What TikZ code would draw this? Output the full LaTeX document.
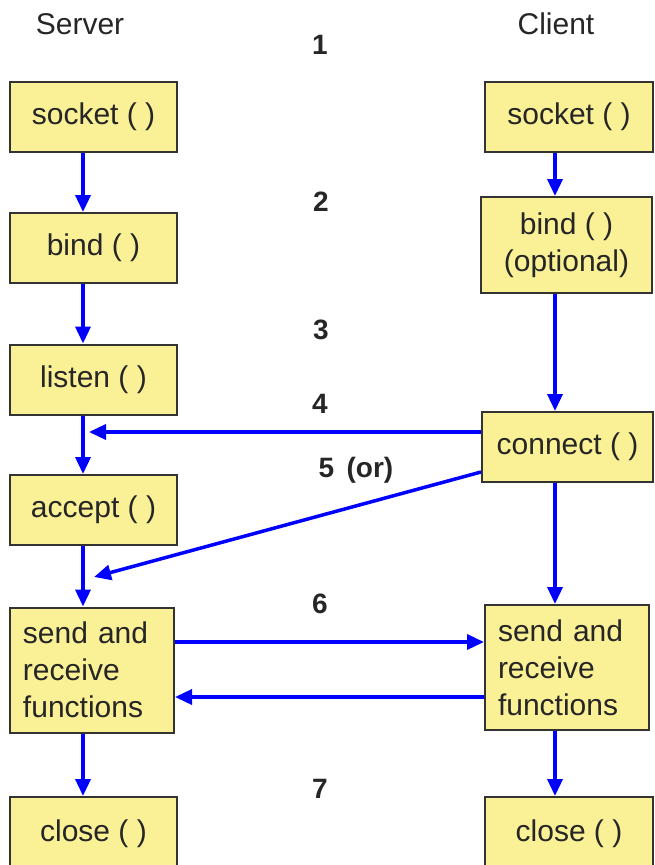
\documentclass[tikz,border=0pt]{standalone}
\usepackage{fontspec}
\setmainfont{Liberation Sans}
\usetikzlibrary{arrows.meta}
\definecolor{boxyellow}{RGB}{250,240,150}

\begin{document}
\begin{tikzpicture} [x=1pt, y=-1pt,
      box/.style={draw=black!80, line width=2pt, fill=boxyellow, inner sep=0pt,
          minimum height=70pt, text=black!85, font=\fontsize{30}{37}\selectfont},
      sendbox/.style={box, align=left, text width=138pt, minimum height=125pt},
      arr/.style={draw=blue, line width=3.5pt, -{Triangle[length=17pt,width=15pt]}},
      head/.style={text=black!85, font=\fontsize{30}{36}\selectfont},
      step no/.style={text=black!85, font=\fontsize{28}{32}\selectfont\bfseries}]
    \useasboundingbox (0,0) rectangle (654,865);

    % server column
    \node[box, minimum width=167pt] (srvsocket) at (93.5,117) {socket ( )};
    \node[box, minimum width=167pt] (srvbind) at (93.5,248) {bind ( )};
    \node[box, minimum width=167pt] (srvlisten) at (93.5,379.5) {listen ( )};
    \node[box, minimum width=167pt] (srvaccept) at (93.5,510) {accept ( )};
    \node[sendbox, minimum width=164pt] (srvsend) at (92,670) {send and\\receive\\functions};
    \node[box, minimum width=167pt, minimum height=73pt] (srvclose) at (93.5,833.5) {\raisebox{4pt}{close ( )}};

    % client column
    \node[box, minimum width=168pt] (cltsocket) at (569,117) {socket ( )};
    \node[box, minimum width=171pt, minimum height=96pt, align=center] (cltbind) at (566.5,245) {bind ( )\\(optional)};
    \node[box, minimum width=171pt] (cltconnect) at (567.5,447) {connect ( )};
    \node[sendbox, minimum width=164pt] (cltsend) at (567,667.5) {send and\\receive\\functions};
    \node[box, minimum width=168pt, minimum height=73pt] (cltclose) at (569,833.5) {\raisebox{4pt}{close ( )}};

    % headings and steps
    \node[head] (server) at (80,24) {Server};
    \node[head] (client) at (556,24) {Client};
    \node[step no] (s1) at (320,45) {1};
    \node[step no] (s2) at (321,202) {2};
    \node[step no] (s3) at (321,330) {3};
    \node[step no] (s4) at (320,404) {4};
    \node[step no] (s5) at (356,470) {5 \,(or)};
    \node[step no] (s6) at (320,604) {6};
    \node[step no] (s7) at (320,789) {7};

    \coordinate (srvx) at (83,0);
    \coordinate (cltx) at (555,0);
    \coordinate (tip4) at (89,432);
    \coordinate (tip5) at (94,577);
    \coordinate (lvl6a) at (0,642);
    \coordinate (lvl6b) at (0,697);

    % server flow
    \draw[arr] (srvsocket.south -| srvx) -- (srvbind.north -| srvx);
    \draw[arr] (srvbind.south -| srvx) -- (srvlisten.north -| srvx);
    \draw[arr] (srvlisten.south -| srvx) -- (srvaccept.north -| srvx);
    \draw[arr] (srvaccept.south -| srvx) -- (srvsend.north -| srvx);
    \draw[arr] (srvsend.south -| srvx) -- (srvclose.north -| srvx);

    % client flow
    \draw[arr] (cltsocket.south -| cltx) -- (cltbind.north -| cltx);
    \draw[arr] (cltbind.south -| cltx) -- (cltconnect.north -| cltx);
    \draw[arr] (cltconnect.south -| cltx) -- (cltsend.north -| cltx);
    \draw[arr] (cltsend.south -| cltx) -- (cltclose.north -| cltx);

    % between them
    \draw[arr] (cltconnect.west |- tip4) -- (tip4);
    \draw[arr] ([yshift=-25pt]cltconnect.west) -- (tip5);
    \draw[arr] (srvsend.east |- lvl6a) -- (cltsend.west |- lvl6a);
    \draw[arr] (cltsend.west |- lvl6b) -- (srvsend.east |- lvl6b);
\end{tikzpicture}
\end{document}
